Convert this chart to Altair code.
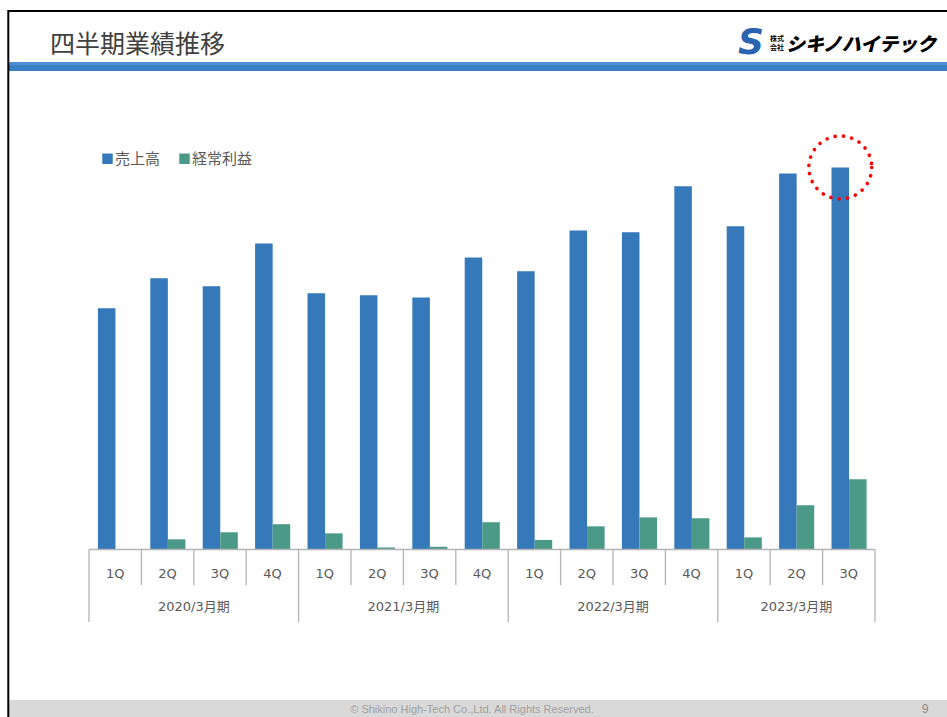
import altair as alt
import pandas as pd

# ---- data (units: 百万円, estimated) ----
years = ["2020/3月期", "2021/3月期", "2022/3月期", "2023/3月期"]
quarters_per_year = [
    ["1Q", "2Q", "3Q", "4Q"],
    ["1Q", "2Q", "3Q", "4Q"],
    ["1Q", "2Q", "3Q", "4Q"],
    ["1Q", "2Q", "3Q"],
]
sales = [1133, 1274, 1236, 1438, 1203, 1194, 1184, 1372, 1307, 1499, 1490, 1706, 1518, 1767, 1795]
profit = [0, 47, 80, 118, 75, 8, 12, 127, 44, 108, 150, 146, 56, 207, 329]
series_names = ["売上高", "経常利益"]
series_colors = ["#3579bb", "#4b9a87"]
highlight_index = 14  # 2023/3月期 3Q, circled in red

# ---- tables built from the arrays ----
rows = []
i = 0
for y, qs in zip(years, quarters_per_year):
    for q in qs:
        rows.append({"idx": i, "year": y, "quarter": q,
                     series_names[0]: sales[i], series_names[1]: profit[i]})
        i += 1
n = i
df = pd.DataFrame(rows)

bounds = []
for r in rows:
    bounds.append({"pos": r["idx"], "major": r["quarter"] == "1Q"})
bounds.append({"pos": n, "major": True})
bdf = pd.DataFrame(bounds)

g = df.groupby("year", sort=False)["idx"].agg(["min", "max"]).reset_index()
g["center"] = (g["min"] + g["max"] + 1) / 2
ydf = g[["year", "center"]]

GRAY_LINE = "#b4b4b4"
TEXT = "#595959"
CJK = "Noto Sans CJK JP"
LATIN = "DejaVu Sans, Noto Sans CJK JP"

xs = alt.Scale(domain=[0, n], range=[89, 875], nice=False, zero=False)
ys = alt.Scale(domain=[0, 2582], range=[549.3, 0], nice=False, zero=True)

bars = (
    alt.Chart(df)
    .transform_fold(series_names, as_=["series", "value"])
    .transform_calculate(
        x0=f"datum.idx + (datum.series === '{series_names[0]}' ? 0.17 : 0.505)",
        x1="datum.x0 + 0.335",
    )
    .mark_bar(clip=False)
    .encode(
        x=alt.X("x0:Q", scale=xs, axis=None),
        x2="x1:Q",
        y=alt.Y("value:Q", scale=ys, axis=None),
        y2=alt.datum(0),
        color=alt.Color(
            "series:N",
            scale=alt.Scale(domain=series_names, range=series_colors),
            sort=series_names,
            legend=alt.Legend(
                title=None, orient="none", direction="horizontal",
                legendX=100, legendY=151, padding=0,
                symbolType="square", symbolSize=110, symbolStrokeWidth=0,
                symbolOpacity=1, labelFont=CJK, labelFontSize=15,
                labelColor=TEXT, labelOffset=0, columnPadding=16,
            ),
        ),
    )
)

baseline = (
    alt.Chart(pd.DataFrame({"a": [0], "b": [n]}))
    .mark_rule(color=GRAY_LINE, strokeWidth=1.3)
    .encode(x=alt.X("a:Q", scale=xs), x2="b:Q", y=alt.value(549.5))
)

minor_ticks = (
    alt.Chart(bdf)
    .transform_filter("!datum.major")
    .mark_rule(color=GRAY_LINE, strokeWidth=1.3)
    .encode(x=alt.X("pos:Q", scale=xs), y=alt.value(549.5), y2=alt.value(585))
)
major_ticks = (
    alt.Chart(bdf)
    .transform_filter("datum.major")
    .mark_rule(color=GRAY_LINE, strokeWidth=1.3)
    .encode(x=alt.X("pos:Q", scale=xs), y=alt.value(549.5), y2=alt.value(622))
)

q_labels = (
    alt.Chart(df)
    .transform_calculate(c="datum.idx + 0.5")
    .mark_text(font=LATIN, fontSize=13, color=TEXT, baseline="middle")
    .encode(x=alt.X("c:Q", scale=xs), y=alt.value(574), text="quarter:N")
)
y_labels = (
    alt.Chart(ydf)
    .mark_text(font=LATIN, fontSize=13, color=TEXT, baseline="middle")
    .encode(x=alt.X("center:Q", scale=xs), y=alt.value(607), text="year:N")
)

circle = (
    alt.Chart(df)
    .transform_filter(f"datum.idx === {highlight_index}")
    .transform_calculate(c="datum.idx + 0.3375")
    .mark_point(shape="circle", filled=False, size=3960, color="#ff0000",
                strokeWidth=3.6, strokeDash=[0.1, 8.3], strokeCap="round",
                opacity=1, clip=False)
    .encode(x=alt.X("c:Q", scale=xs), y=alt.Y(f"{series_names[0]}:Q", scale=ys))
)


def rect(x1, x2, y1, y2, color):
    return (
        alt.Chart(pd.DataFrame({"k": [0]}))
        .mark_rect(color=color)
        .encode(x=alt.value(x1), x2=alt.value(x2), y=alt.value(y1), y2=alt.value(y2))
    )


def rule(x1, x2, y1, y2, color, w):
    return (
        alt.Chart(pd.DataFrame({"k": [0]}))
        .mark_rule(color=color, strokeWidth=w)
        .encode(x=alt.value(x1), x2=alt.value(x2), y=alt.value(y1), y2=alt.value(y2))
    )


def label(text, x, y, **kw):
    return (
        alt.Chart(pd.DataFrame({"t": [text]}))
        .mark_text(**kw)
        .encode(x=alt.value(x), y=alt.value(y), text="t:N")
    )


band = rect(9, 947, 62, 71, "#3b80c4")
band_light = rect(9, 947, 62, 65, "#4d8fcf")
footer = rect(9, 947, 700, 717, "#d9d9d9")
frame_left = rule(8.3, 8.3, 10, 717, "#000000", 2)
frame_top = rule(8, 947, 11, 11, "#000000", 2)

title = label("四半期業績推移", 50, 45, font=CJK, fontSize=25, color="#404040",
              align="left", baseline="middle")
logo_s = label("S", 751, 43, font="DejaVu Sans", fontSize=36, fontWeight="bold",
               fontStyle="italic", color="#2a63b0", align="center", baseline="middle")
logo_k1 = label("株式", 777, 39, font=CJK, fontSize=7, fontWeight="bold",
                color="#000000", align="center", baseline="middle")
logo_k2 = label("会社", 777, 48, font=CJK, fontSize=7, fontWeight="bold",
                color="#000000", align="center", baseline="middle")
logo_name = label("シキノハイテック", 786, 45, font=CJK, fontSize=19, fontWeight=900,
                  fontStyle="italic", color="#000000", align="left", baseline="middle")
copyright_t = label("© Shikino High-Tech Co.,Ltd. All Rights Reserved.", 472, 710,
                    font="Liberation Sans", fontSize=11, color="#a0a0a0",
                    align="center", baseline="middle")
page_no = label("9", 925, 709, font="Liberation Sans", fontSize=12, color="#8c8c8c",
                align="center", baseline="middle")

chart = (
    alt.layer(
        band, band_light, footer, frame_left, frame_top,
        title, logo_s, logo_k1, logo_k2, logo_name, copyright_t, page_no,
        bars, baseline, minor_ticks, major_ticks, q_labels, y_labels, circle,
    )
    .properties(width=947, height=717, padding=0,
                autosize=alt.AutoSizeParams(type="none"), background="#ffffff")
    .configure_view(strokeWidth=0)
)

chart.save("out.html", embed_options={"renderer": "svg", "actions": False})
